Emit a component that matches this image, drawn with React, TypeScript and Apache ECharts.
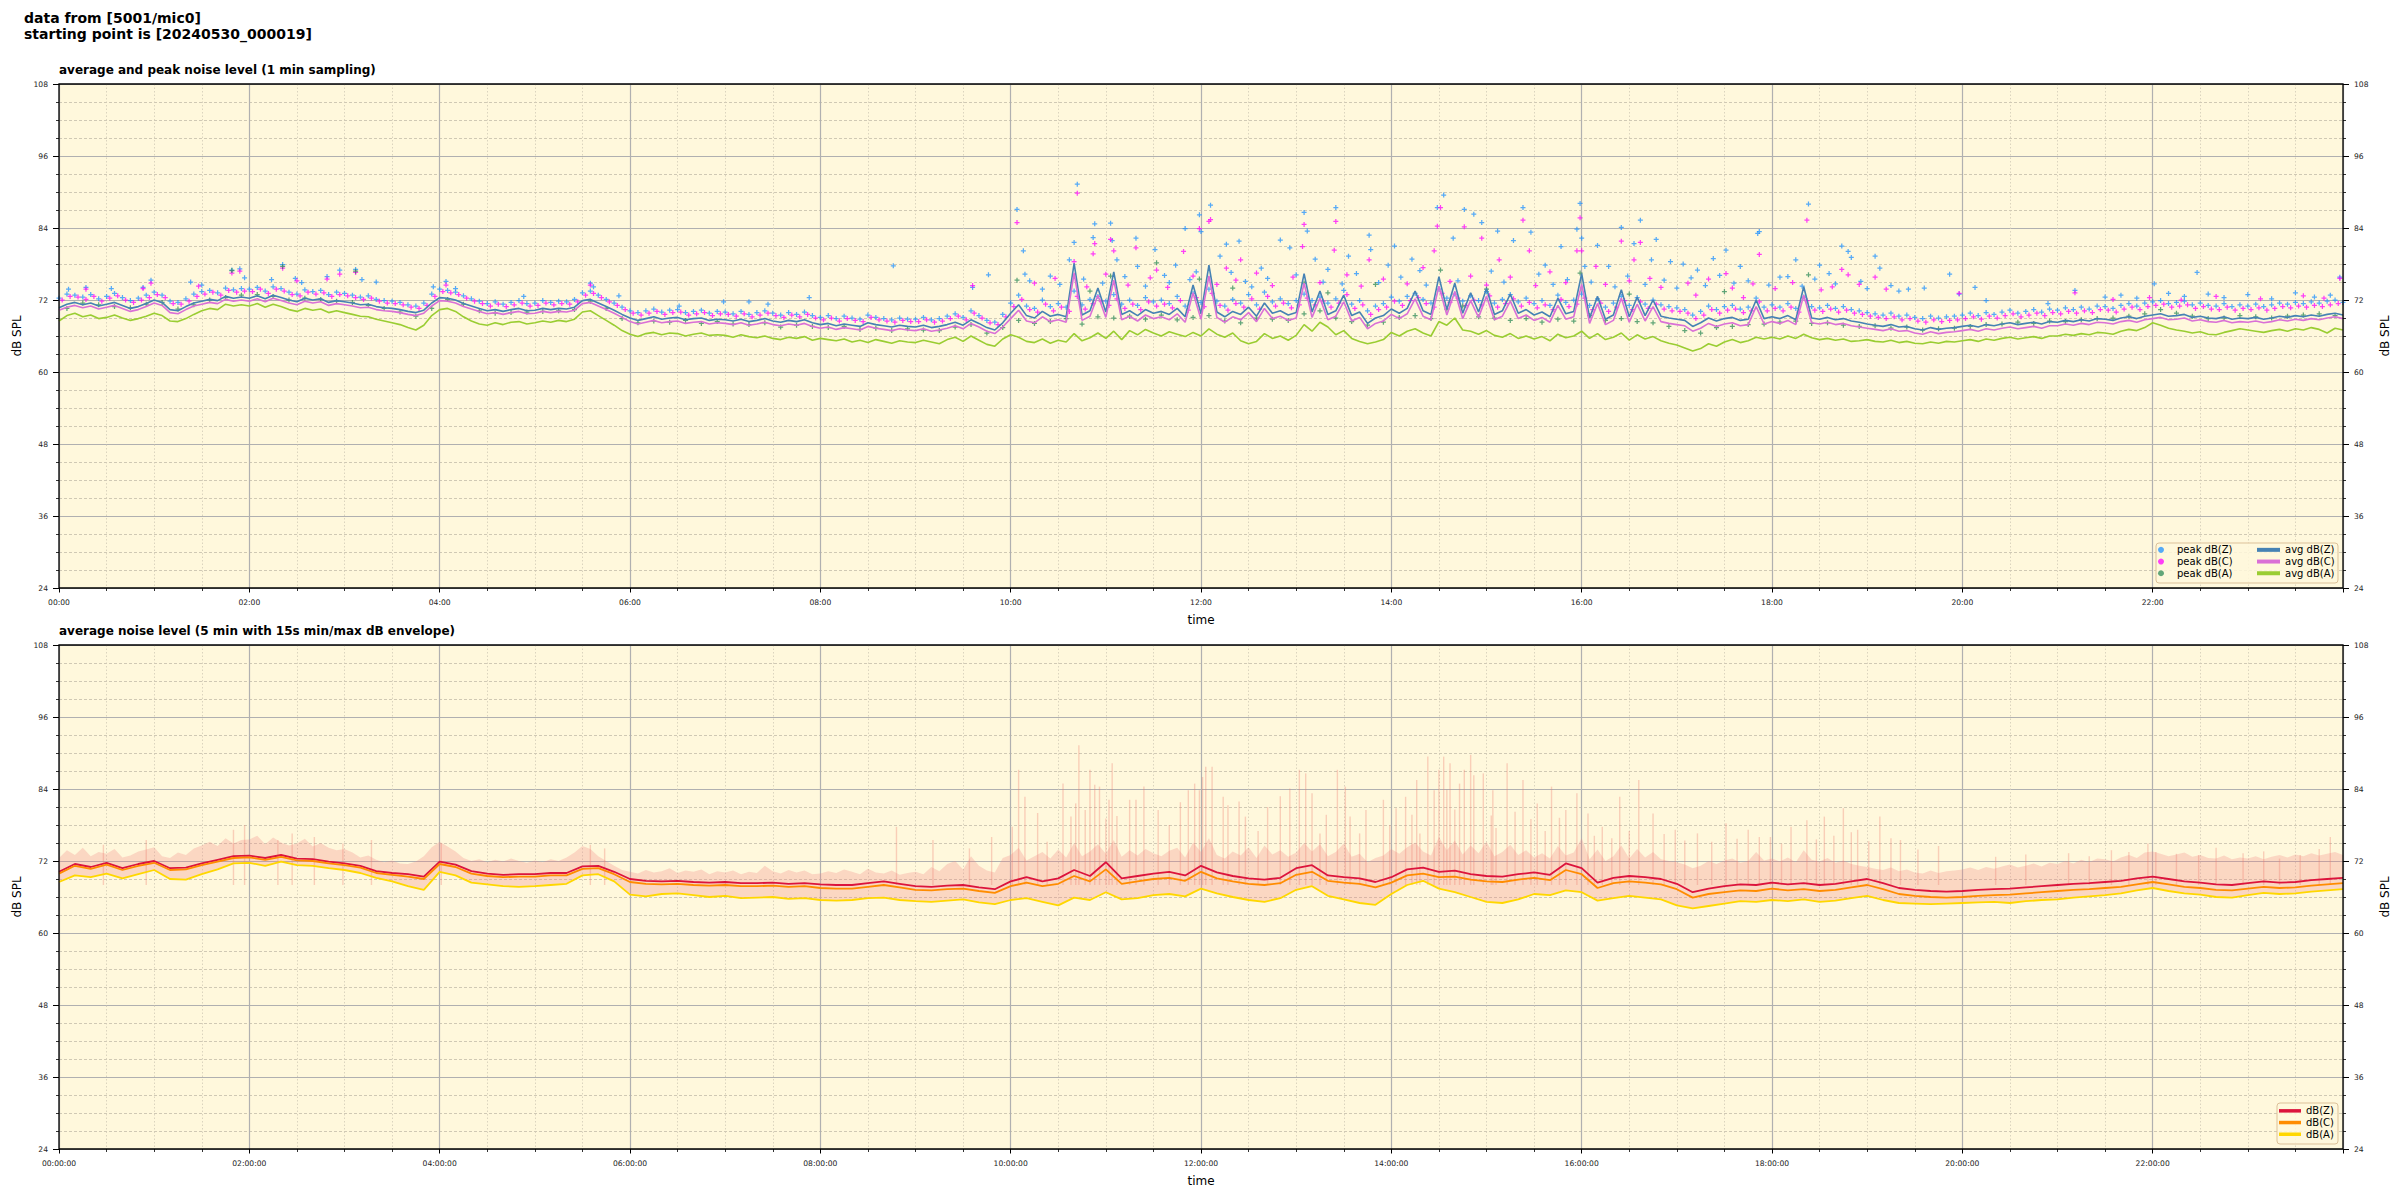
import React, { useEffect, useRef } from 'react';
import * as echarts from 'echarts';

// ---------- DATA (minutes since 00:00, dB SPL) ----------
const TOP_STEP = 5; // minutes between samples of the top-panel arrays
const BOT_STEP = 10; // minutes between samples of the bottom-panel lines
const ENV_STEP = 5; // minutes between samples of the envelope upper edge
const PEAK_A_STEP = 10;

const AVG_Z = [
  70.7, 71.3, 71.6, 71.2, 71.5, 71.0, 71.3, 71.6, 71.1, 70.6, 70.9, 71.4,
  72.0, 71.6, 70.4, 70.2, 70.9, 71.5, 71.8, 72.1, 71.9, 72.6, 72.3, 72.5,
  72.3, 72.7, 72.2, 72.8, 72.4, 72.0, 71.7, 72.3, 72.0, 72.2, 71.6, 71.9,
  71.7, 71.5, 71.2, 71.3, 70.9, 70.7, 70.6, 70.4, 70.1, 69.9, 70.3, 71.5,
  72.4, 72.3, 72.0, 71.4, 71.0, 70.6, 70.2, 70.4, 70.1, 70.4, 70.6, 70.2,
  70.3, 70.6, 70.4, 70.6, 70.5, 70.8, 71.9, 72.1, 71.5, 70.9, 70.3, 69.6,
  69.0, 68.6, 68.9, 69.2, 68.8, 69.0, 69.1, 68.7, 68.9, 69.0, 68.6, 68.8,
  68.7, 68.5, 68.8, 68.4, 68.6, 68.9, 68.5, 68.3, 68.6, 68.4, 68.7, 68.2,
  67.9, 68.1, 67.7, 68.0, 67.8, 67.6, 68.2, 67.9, 67.7, 67.5, 67.8, 67.6,
  67.5, 67.8, 67.4, 67.6, 67.9, 68.3, 67.8, 68.7, 68.1, 67.4, 67.0, 68.2,
  69.8, 71.2, 69.4, 69.0, 70.1, 69.3, 69.6, 69.2, 78.1, 69.5, 70.2, 74.0,
  70.0, 76.7, 69.6, 70.2, 69.4, 70.4, 69.8, 70.1, 69.6, 70.6, 69.2, 74.5,
  69.7, 77.8, 70.0, 69.2, 70.1, 69.6, 70.8, 69.3, 71.5, 69.8, 70.2, 69.5,
  69.9, 76.4, 70.0, 73.5, 69.6, 70.2, 72.8, 69.4, 70.0, 68.1, 69.0, 69.4,
  70.5, 69.8, 70.6, 73.5, 70.2, 69.6, 75.9, 70.4, 74.8, 69.8, 73.2, 70.0,
  73.9, 69.6, 70.2, 73.0, 69.8, 70.4, 69.5, 70.0, 69.2, 72.3, 69.7, 70.1,
  76.4, 69.0, 72.6, 68.8, 69.5, 73.7, 69.2, 72.5, 69.4, 72.0, 69.3, 69.0,
  68.8, 68.6, 67.6, 68.2, 69.0, 68.5, 68.9, 69.1, 68.6, 68.8, 72.0, 68.9,
  69.2, 68.9, 69.4, 68.7, 74.2, 69.0, 68.8, 69.1, 68.7, 68.9, 68.5, 68.3,
  68.0, 67.8, 67.6, 67.9, 67.5, 67.6, 67.2, 67.0, 67.4, 67.1, 67.3, 67.4,
  67.6, 67.8, 67.5, 67.9, 67.7, 68.0, 68.2, 67.9, 68.1, 68.3, 68.0, 68.4,
  68.3, 68.6, 68.4, 68.7, 68.5, 68.9, 68.8, 68.6, 69.0, 69.2, 68.9, 69.3,
  69.5, 69.7, 69.3, 69.4, 69.6, 69.1, 69.3, 69.0, 68.9, 69.2, 68.8, 69.0,
  68.9, 69.1, 68.8, 69.0, 69.3, 69.1, 69.4, 69.2, 69.5, 69.3, 69.6, 69.8,
  69.5,
];

const AVG_C = [
  70.3, 70.8, 71.1, 70.7, 71.0, 70.5, 70.8, 71.1, 70.6, 70.1, 70.4, 70.9,
  71.5, 71.1, 69.9, 69.7, 70.4, 71.0, 71.3, 71.6, 71.4, 72.1, 71.8, 72.0,
  71.8, 72.2, 71.7, 72.3, 71.9, 71.5, 71.2, 71.8, 71.5, 71.7, 71.1, 71.4,
  71.2, 71.0, 70.7, 70.8, 70.4, 70.2, 70.1, 69.9, 69.6, 69.4, 69.8, 71.0,
  71.9, 71.8, 71.5, 70.9, 70.5, 70.1, 69.7, 69.9, 69.6, 69.9, 70.1, 69.7,
  69.8, 70.1, 69.9, 70.1, 70.0, 70.3, 71.4, 71.6, 71.0, 70.4, 69.8, 69.1,
  68.4, 68.0, 68.3, 68.6, 68.2, 68.4, 68.5, 68.1, 68.3, 68.4, 68.0, 68.2,
  68.1, 67.9, 68.2, 67.8, 68.0, 68.3, 67.9, 67.7, 68.0, 67.8, 68.1, 67.6,
  67.3, 67.5, 67.1, 67.4, 67.2, 67.0, 67.6, 67.3, 67.1, 66.9, 67.2, 67.0,
  66.9, 67.2, 66.8, 67.0, 67.3, 67.7, 67.2, 68.1, 67.5, 66.8, 66.4, 67.5,
  68.9, 70.3, 68.5, 68.2, 69.2, 68.4, 68.7, 68.3, 76.5, 68.6, 69.3, 72.8,
  69.1, 75.3, 68.7, 69.3, 68.5, 69.5, 68.9, 69.2, 68.7, 69.7, 68.3, 73.2,
  68.8, 76.0, 69.1, 68.3, 69.2, 68.7, 69.9, 68.4, 70.6, 68.9, 69.3, 68.6,
  69.0, 74.8, 69.1, 72.3, 68.7, 69.3, 71.7, 68.5, 69.1, 67.2, 68.1, 68.5,
  69.6, 68.9, 69.7, 72.2, 69.3, 68.7, 74.3, 69.5, 73.4, 68.9, 71.9, 69.1,
  72.6, 68.7, 69.3, 71.8, 68.9, 69.5, 68.6, 69.1, 68.3, 71.1, 68.8, 69.2,
  74.6, 68.1, 71.4, 67.9, 68.6, 72.3, 68.3, 71.3, 68.5, 70.9, 68.4, 68.1,
  67.9, 67.7, 66.8, 67.3, 68.1, 67.6, 68.0, 68.2, 67.7, 67.9, 70.9, 68.0,
  68.4, 68.1, 68.6, 67.9, 72.8, 68.2, 68.0, 68.3, 67.9, 68.1, 67.7, 67.5,
  67.3, 67.1, 66.9, 67.2, 66.8, 66.9, 66.5, 66.3, 66.7, 66.4, 66.6, 66.7,
  66.9, 67.1, 66.8, 67.2, 67.0, 67.3, 67.5, 67.2, 67.4, 67.6, 67.3, 67.7,
  67.7, 68.0, 67.8, 68.1, 67.9, 68.3, 68.2, 68.0, 68.4, 68.6, 68.3, 68.7,
  68.9, 69.1, 68.7, 68.8, 69.0, 68.5, 68.7, 68.4, 68.3, 68.6, 68.2, 68.4,
  68.3, 68.5, 68.2, 68.4, 68.7, 68.5, 68.8, 68.6, 68.9, 68.7, 69.0, 69.2,
  68.9,
];

const AVG_A = [
  68.5, 69.4, 69.8, 69.2, 69.5, 68.9, 69.1, 69.5, 69.0, 68.6, 68.9, 69.3,
  69.8, 69.4, 68.5, 68.4, 68.9, 69.6, 70.2, 70.6, 70.4, 71.3, 71.0, 71.2,
  71.0, 71.4, 70.8, 71.3, 70.9, 70.4, 70.1, 70.6, 70.3, 70.5, 69.9, 70.2,
  69.9, 69.6, 69.3, 69.2, 68.8, 68.5, 68.2, 67.9, 67.4, 67.0, 67.8, 69.4,
  70.4, 70.6, 70.1, 69.2, 68.5, 68.0, 67.8, 68.2, 67.9, 68.3, 68.4, 68.0,
  68.2, 68.5, 68.3, 68.6, 68.4, 68.8, 70.0, 70.2, 69.4, 68.6, 67.8, 66.9,
  66.3, 65.9, 66.4, 66.6, 66.2, 66.5, 66.4, 66.0, 66.3, 66.5, 66.1, 66.2,
  66.1, 65.8, 66.2, 65.9, 65.7, 66.0, 65.6, 65.4, 65.8, 65.6, 65.9, 65.3,
  65.6, 65.4, 65.2, 65.5, 65.0, 65.3, 64.9, 65.4, 65.1, 64.8, 65.2, 65.0,
  64.9, 65.3, 65.0, 64.7, 65.4, 65.8, 65.1, 66.0, 65.3, 64.6, 64.3, 65.5,
  66.2, 65.8, 65.1, 64.9, 65.5, 64.8, 65.3, 65.0, 66.4, 65.2, 65.7, 66.5,
  65.6, 66.8, 65.4, 66.9, 66.2, 67.1, 66.5, 66.0, 66.7, 66.3, 65.9, 66.6,
  66.0, 67.2, 66.3, 65.8, 66.5, 65.2, 64.7, 65.1, 66.4, 65.6, 66.0, 65.3,
  66.1, 67.9, 66.8, 68.3, 67.5, 66.2, 66.9, 65.6, 65.1, 64.7, 65.0, 65.4,
  66.6, 66.0, 66.8, 67.2, 66.5, 66.0, 68.4, 67.8, 69.0, 67.0, 66.8, 66.3,
  66.9, 66.1, 65.8, 66.4, 65.6, 66.0, 65.5, 65.9, 65.2, 66.3, 65.7, 66.0,
  66.8, 65.6, 66.4, 65.4, 65.8, 66.5, 65.3, 66.2, 65.5, 65.9, 65.2, 64.8,
  64.5, 64.0, 63.5, 63.9, 64.7, 64.3, 65.0, 65.4, 64.9, 65.2, 65.8, 65.5,
  65.8, 65.5, 66.0, 65.6, 66.3, 65.7, 65.4, 65.6, 65.3, 65.5, 65.1, 65.2,
  65.4, 65.1, 65.0, 65.3, 64.9, 65.1, 64.8, 64.7, 65.0, 64.8, 65.1, 65.0,
  65.2, 65.4, 65.1, 65.5, 65.3, 65.6, 65.8, 65.5, 65.7, 65.9, 65.6, 66.0,
  66.0, 66.3, 66.1, 66.4, 66.2, 66.6, 66.5, 66.3, 66.8, 67.1, 66.9, 67.4,
  68.2, 67.8, 67.3, 67.0, 66.8, 66.5, 66.7, 66.3, 66.2, 66.6, 66.9, 67.2,
  67.0, 66.8, 66.6, 66.9, 67.1, 66.8, 67.2, 67.0, 67.4, 67.1, 66.5, 67.3,
  67.0,
];

const PEAK_Z = [
  72.3, 73.0, 72.8, 72.5, 72.9, 72.2, 72.6, 73.1, 72.4, 71.9, 72.3, 72.8,
  73.3, 72.8, 71.8, 71.6, 72.2, 73.0, 73.4, 73.6, 73.2, 74.0, 73.7, 73.9,
  73.8, 74.1, 73.5, 74.2, 73.9, 73.3, 73.0, 73.7, 73.4, 73.6, 72.9, 73.3,
  73.1, 72.8, 72.5, 72.7, 72.1, 71.9, 71.8, 71.6, 71.2, 71.0, 71.5, 73.0,
  73.8, 73.6, 73.3, 72.7, 72.2, 71.8, 71.4, 71.7, 71.3, 71.6, 71.9, 71.4,
  71.5, 71.9, 71.6, 71.8, 71.7, 72.1, 73.2, 73.5, 72.8, 72.1, 71.5, 70.8,
  70.2, 69.9, 70.2, 70.5, 70.0, 70.3, 70.4, 69.9, 70.1, 70.3, 69.8, 70.1,
  70.0, 69.7, 70.1, 69.6, 69.9, 70.2, 69.8, 69.5, 69.9, 69.6, 70.0, 69.4,
  69.1, 69.4, 68.9, 69.3, 69.0, 68.8, 69.5, 69.1, 68.9, 68.7, 69.0, 68.8,
  68.8, 69.1, 68.7, 68.9, 69.3, 69.7, 69.1, 70.2, 69.4, 68.6, 68.3, 69.6,
  71.5, 72.8, 71.0, 70.6, 72.0, 70.9, 71.4, 70.8, 73.5, 71.2, 72.1, 72.6,
  71.8, 72.9, 71.3, 72.0, 71.1, 72.4, 71.7, 72.0, 71.4, 72.6, 71.0, 73.1,
  71.6, 73.8, 71.8, 71.0, 72.1, 71.5, 72.9, 71.2, 73.3, 71.7, 72.2, 71.4,
  71.9, 73.0, 71.9, 72.5, 71.5, 72.2, 73.6, 71.3, 71.9, 70.2, 71.0, 71.4,
  72.5, 71.8, 72.6, 73.1, 72.1, 71.5, 73.8, 72.3, 73.0, 71.8, 72.7, 71.9,
  73.4, 71.5, 72.1, 72.9, 71.7, 72.3, 71.4, 71.9, 71.1, 72.8, 71.6, 72.0,
  73.0, 71.1, 72.2, 70.8, 71.5, 72.6, 71.1, 72.4, 71.3, 72.0, 71.2, 70.9,
  70.7, 70.4, 69.5, 70.1, 71.0, 70.4, 70.9, 71.1, 70.5, 70.8, 72.3, 70.8,
  71.2, 70.8, 71.4, 70.6, 72.5, 70.9, 70.7, 71.1, 70.6, 70.9, 70.4, 70.2,
  69.9, 69.7, 69.5, 69.8, 69.3, 69.5, 69.1, 68.9, 69.3, 69.0, 69.2, 69.3,
  69.5, 69.8, 69.4, 69.9, 69.6, 70.0, 70.3, 69.8, 70.1, 70.4, 70.0, 70.5,
  70.3, 70.7, 70.4, 70.8, 70.5, 71.0, 70.9, 70.6, 71.1, 71.4, 71.0, 71.5,
  71.7, 71.9, 71.4, 71.6, 71.8, 71.2, 71.5, 71.1, 71.0, 71.4, 70.9, 71.2,
  71.0, 71.3, 70.9, 71.2, 71.5, 71.3, 71.6, 71.4, 71.7, 71.5, 71.8, 72.0,
  71.6,
];

const PEAK_C = [
  72.0, 72.6, 72.5, 72.1, 72.6, 71.8, 72.3, 72.7, 72.0, 71.6, 72.0, 72.4,
  72.9, 72.4, 71.4, 71.3, 71.8, 72.6, 73.0, 73.3, 72.8, 73.6, 73.3, 73.5,
  73.4, 73.8, 73.1, 73.8, 73.5, 72.9, 72.7, 73.3, 73.0, 73.2, 72.6, 72.9,
  72.7, 72.4, 72.1, 72.3, 71.8, 71.5, 71.4, 71.2, 70.8, 70.6, 71.1, 72.6,
  73.4, 73.2, 72.9, 72.3, 71.8, 71.4, 71.0, 71.3, 70.9, 71.2, 71.5, 71.0,
  71.1, 71.5, 71.2, 71.4, 71.3, 71.7, 72.8, 73.1, 72.4, 71.7, 71.1, 70.4,
  69.8, 69.5, 69.8, 70.1, 69.6, 69.9, 70.0, 69.5, 69.7, 69.9, 69.4, 69.7,
  69.6, 69.3, 69.7, 69.2, 69.5, 69.8, 69.4, 69.1, 69.5, 69.2, 69.6, 69.0,
  68.7, 69.0, 68.5, 68.9, 68.6, 68.4, 69.1, 68.7, 68.5, 68.3, 68.6, 68.4,
  68.4, 68.7, 68.3, 68.5, 68.9, 69.3, 68.7, 69.8, 69.0, 68.2, 67.9, 69.2,
  70.9, 72.1, 70.4, 70.0, 71.3, 70.2, 70.8, 70.1, 72.6, 70.5, 71.4, 71.8,
  71.1, 72.2, 70.6, 71.3, 70.4, 71.7, 71.0, 71.3, 70.7, 71.9, 70.3, 72.4,
  70.9, 73.1, 71.1, 70.3, 71.4, 70.8, 72.2, 70.5, 72.6, 71.0, 71.5, 70.7,
  71.2, 72.3, 71.2, 71.8, 70.8, 71.5, 72.9, 70.6, 71.2, 69.6, 70.4, 70.8,
  71.8, 71.1, 71.9, 72.4, 71.4, 70.8, 73.1, 71.6, 72.3, 71.1, 72.0, 71.2,
  72.7, 70.8, 71.4, 72.2, 71.0, 71.6, 70.7, 71.2, 70.4, 72.1, 70.9, 71.3,
  72.3, 70.4, 71.5, 70.1, 70.8, 71.9, 70.4, 71.7, 70.6, 71.3, 70.5, 70.2,
  70.1, 69.8, 68.9, 69.5, 70.4, 69.8, 70.3, 70.5, 69.9, 70.2, 71.7, 70.2,
  70.6, 70.2, 70.8, 70.0, 71.9, 70.3, 70.1, 70.5, 70.0, 70.3, 69.8, 69.6,
  69.3, 69.1, 68.9, 69.2, 68.7, 68.9, 68.5, 68.3, 68.7, 68.4, 68.6, 68.7,
  68.9, 69.2, 68.8, 69.3, 69.0, 69.4, 69.7, 69.2, 69.5, 69.8, 69.4, 69.9,
  69.7, 70.1, 69.8, 70.2, 69.9, 70.4, 70.3, 70.0, 70.5, 70.8, 70.4, 70.9,
  71.1, 71.3, 70.8, 71.0, 71.2, 70.6, 70.9, 70.5, 70.4, 70.8, 70.3, 70.6,
  70.4, 70.7, 70.3, 70.6, 70.9, 70.7, 71.0, 70.8, 71.1, 70.9, 71.2, 71.4,
  71.0,
];

const PEAK_A = [
  70.6, 71.5, 71.2, 70.9, 70.7, 71.3,
  71.6, 70.5, 71.2, 72.0, 72.4, 72.8,
  72.9, 72.6, 72.0, 72.3, 72.1, 71.8,
  71.6, 71.1, 70.6, 70.0, 69.3, 70.6,
  72.1, 71.3, 70.2, 69.8, 69.9, 70.0,
  70.1, 70.2, 70.4, 71.8, 70.6, 68.9,
  68.2, 68.5, 68.3, 68.6, 68.1, 68.4,
  68.0, 67.9, 68.2, 67.5, 67.8, 67.6,
  67.4, 67.6, 67.1, 67.3, 66.9, 67.2,
  67.0, 66.9, 67.5, 67.9, 66.5, 67.4,
  68.6, 68.1, 68.4, 68.9, 68.0, 69.2,
  69.0, 69.3, 68.8, 69.5, 68.7, 69.1,
  69.4, 68.5, 68.2, 69.0, 68.8, 68.6,
  69.7, 70.2, 69.0, 68.4, 67.8, 68.3,
  69.1, 69.4, 68.9, 70.5, 71.0, 69.2,
  69.0, 68.6, 68.9, 68.3, 68.8, 68.5,
  69.4, 68.6, 68.9, 68.4, 68.2, 67.6,
  66.9, 66.5, 67.4, 67.6, 67.9, 68.0,
  68.3, 68.5, 68.1, 68.2, 67.8, 67.6,
  67.7, 67.3, 67.5, 67.0, 67.2, 67.3,
  67.6, 67.9, 68.0, 68.3, 68.1, 68.5,
  68.4, 68.7, 68.9, 69.0, 69.3, 69.7,
  70.4, 69.8, 69.3, 68.9, 69.0, 69.4,
  69.2, 69.0, 69.3, 69.5, 69.7, 69.4,
  69.3,
];

// isolated 1-min peaks [minute, dB]
const PEAK_Z_OUT = [
  [6, 73.8], [17, 74.1], [33, 73.9], [53, 74.1], [58, 75.3], [83, 75.0], [90, 74.5], [109, 77.0], [114, 77.2], [117, 75.7],
  [134, 75.4], [141, 77.9], [149, 75.6], [153, 74.9], [169, 75.9], [177, 77.0], [187, 77.1], [191, 75.4], [200, 75.0], [236, 74.2],
  [244, 75.1], [250, 73.9], [293, 72.6], [335, 74.8], [337, 74.2], [353, 72.7], [391, 71.0], [419, 71.7], [435, 71.7], [447, 71.3],
  [473, 72.4], [526, 77.7], [576, 74.1], [586, 76.2], [604, 87.1], [608, 80.2], [609, 76.3], [620, 73.8], [637, 78.7], [640, 81.6],
  [642, 91.3], [652, 82.4], [653, 84.7], [663, 84.8], [664, 81.9], [667, 78.7], [679, 82.3], [680, 77.6], [691, 80.4], [704, 77.8],
  [710, 83.9], [717, 76.7], [719, 86.2], [720, 83.4], [726, 87.8], [732, 79.3], [736, 81.3], [744, 81.8], [748, 75.1], [770, 82.0],
  [776, 80.7], [785, 86.6], [787, 83.5], [792, 78.8], [805, 87.4], [813, 79.3], [826, 82.8], [827, 80.4], [838, 77.8], [842, 81.0],
  [853, 78.8], [869, 87.4], [873, 89.5], [879, 82.3], [886, 87.1], [892, 86.3], [897, 84.9], [907, 83.5], [917, 81.9], [923, 87.4],
  [928, 83.3], [937, 77.8], [947, 80.9], [957, 83.8],
  [612, 75.2], [625, 76.0], [631, 74.6], [646, 75.5], [658, 74.8], [672, 75.9], [685, 74.3], [697, 76.1], [700, 74.9], [713, 75.4],
  [739, 76.6], [752, 74.2], [758, 77.3], [762, 75.6], [780, 76.2], [797, 75.0], [800, 77.1], [809, 74.7], [818, 76.4], [832, 74.9],
  [846, 75.8], [858, 76.9], [862, 74.5], [882, 75.2], [903, 76.8], [911, 75.0], [933, 76.3], [942, 74.6], [951, 75.4],
  [959, 88.1], [960, 82.3], [962, 77.6], [970, 81.1], [977, 77.6], [985, 84.1], [993, 81.4], [997, 85.3], [1004, 78.7], [1007, 82.1],
  [1016, 78.4], [1024, 78.0], [1033, 77.0], [1043, 78.9], [1051, 80.3], [1060, 77.6], [1071, 83.1], [1072, 83.4], [1085, 75.8], [1095, 78.7],
  [1103, 88.0], [1110, 77.8], [1116, 76.4], [1124, 81.0], [1128, 80.1], [1130, 79.1], [1145, 79.3], [1148, 77.3], [1166, 73.8], [1192, 76.3],
  [1198, 73.0], [1208, 74.1], [1215, 71.9], [1254, 71.4], [1271, 73.6], [1321, 74.7], [1348, 76.6], [1438, 75.8],
  [966, 75.0], [981, 74.2], [989, 76.0], [1000, 74.6], [1012, 75.3], [1020, 74.0], [1029, 75.7], [1038, 74.4], [1047, 76.1], [1056, 74.8],
  [1065, 75.2], [1078, 74.5], [1090, 75.9], [1099, 74.3], [1107, 75.5], [1120, 74.7], [1136, 75.1], [1140, 73.9], [1155, 74.4], [1160, 73.5],
  [1176, 74.0], [1290, 72.5], [1300, 72.8], [1310, 72.3], [1330, 73.1], [1340, 72.6], [1355, 73.0], [1365, 72.4], [1380, 72.9], [1395, 72.2],
  [1410, 73.2], [1422, 72.5], [1432, 72.8],
];

const PEAK_C_OUT = [
  [17, 73.8], [53, 73.9], [58, 74.8], [88, 74.3], [109, 76.5], [114, 76.8], [141, 77.3], [150, 75.2], [169, 75.5], [177, 76.3],
  [187, 76.6], [244, 74.5], [335, 74.5], [576, 74.4], [604, 84.9], [640, 78.4], [642, 89.8], [652, 79.7], [653, 81.4], [663, 82.1],
  [665, 80.2], [679, 80.7], [692, 77.0], [709, 80.1], [719, 83.9], [725, 85.1], [726, 85.4], [736, 77.3], [745, 78.7], [784, 80.9],
  [785, 84.6], [804, 80.3], [805, 85.1], [826, 78.7], [867, 80.2], [869, 84.3], [871, 87.4], [886, 84.2], [897, 82.3], [908, 78.7],
  [923, 85.3], [927, 80.2], [957, 80.2],
  [615, 74.8], [628, 75.6], [648, 74.2], [660, 76.3], [674, 74.5], [688, 75.7], [699, 74.1], [715, 76.0], [730, 74.6], [742, 75.3],
  [755, 76.5], [765, 74.4], [778, 75.8], [795, 74.9], [812, 76.2], [821, 74.3], [835, 75.5], [850, 74.7], [860, 77.4], [877, 75.1],
  [890, 76.0], [900, 74.5], [915, 75.8], [931, 74.4], [940, 76.7], [950, 74.9],
  [959, 85.7], [960, 80.2], [969, 77.6], [985, 81.8], [993, 78.7], [997, 81.6], [1003, 75.6], [1032, 72.8], [1051, 76.4], [1062, 72.4],
  [1072, 79.6], [1102, 85.3], [1111, 73.7], [1124, 77.1], [1128, 76.2], [1145, 75.8], [1198, 73.1], [1271, 73.2], [1438, 75.6],
  [975, 74.6], [990, 75.2], [1010, 74.1], [1027, 74.8], [1040, 75.5], [1055, 74.0], [1068, 74.7], [1082, 73.9], [1093, 74.9], [1118, 74.2],
  [1135, 74.6], [1152, 73.8], [1295, 72.1], [1318, 72.4], [1338, 72.0], [1360, 72.6], [1388, 72.2], [1415, 72.7], [1428, 72.3],
];

const PEAK_A_OUT = [
  [109, 76.9], [141, 77.6], [187, 76.8], [604, 75.3], [650, 73.5], [663, 76.0], [692, 78.2], [719, 75.5], [740, 74.0], [785, 74.8],
  [800, 73.2], [830, 74.6], [871, 77.0], [900, 73.8], [959, 76.5], [990, 73.0], [1050, 73.4], [1103, 76.2],
];

// bottom panel: 5-min averages (10-min samples)
const BOT_Z = [
  70.2, 71.5, 71.0, 71.7, 70.8, 71.5,
  72.0, 70.8, 70.9, 71.6, 72.2, 72.8,
  72.9, 72.5, 73.0, 72.4, 72.3, 71.9,
  71.6, 71.2, 70.3, 70.0, 69.8, 69.4,
  71.9, 71.4, 70.3, 69.9, 69.7, 69.8,
  69.8, 70.0, 70.0, 71.1, 71.2, 70.2,
  69.0, 68.7, 68.6, 68.7, 68.5, 68.4,
  68.5, 68.3, 68.3, 68.4, 68.2, 68.3,
  68.1, 68.0, 68.0, 68.3, 68.6, 68.2,
  67.8, 67.7, 67.9, 68.0, 67.6, 67.3,
  68.6, 69.3, 68.6, 69.1, 70.5, 69.5,
  71.8, 69.1, 69.5, 69.9, 70.2, 69.6,
  71.2, 70.1, 69.5, 69.1, 68.9, 69.2,
  70.8, 71.3, 69.6, 69.3, 69.1, 68.5,
  69.3, 70.6, 70.9, 70.2, 70.4, 69.8,
  69.5, 69.4, 69.8, 70.1, 69.7, 71.6,
  70.8, 68.4, 69.2, 69.5, 69.3, 69.0,
  68.2, 66.8, 67.4, 67.8, 68.1, 68.0,
  68.4, 68.1, 68.3, 68.0, 68.2, 68.6,
  69.0, 68.3, 67.5, 67.2, 67.0, 66.9,
  67.0, 67.2, 67.3, 67.4, 67.6, 67.8,
  68.0, 68.2, 68.3, 68.5, 68.7, 69.1,
  69.4, 69.0, 68.6, 68.4, 68.1, 68.0,
  68.3, 68.6, 68.4, 68.5, 68.8, 69.0,
  69.2,
];

const BOT_C = [
  69.9, 71.2, 70.7, 71.4, 70.5, 71.2,
  71.7, 70.5, 70.6, 71.3, 71.9, 72.5,
  72.6, 72.2, 72.7, 72.1, 72.0, 71.6,
  71.3, 70.9, 70.0, 69.7, 69.4, 69.0,
  71.5, 71.0, 69.9, 69.5, 69.3, 69.4,
  69.4, 69.6, 69.6, 70.7, 70.8, 69.8,
  68.5, 68.2, 68.1, 68.2, 68.0, 67.9,
  68.0, 67.8, 67.8, 67.9, 67.7, 67.8,
  67.5, 67.4, 67.4, 67.7, 68.0, 67.6,
  67.2, 67.1, 67.3, 67.4, 67.0, 66.7,
  67.8, 68.4, 67.8, 68.2, 69.5, 68.6,
  70.6, 68.2, 68.6, 69.0, 69.2, 68.7,
  70.2, 69.1, 68.6, 68.2, 68.0, 68.3,
  69.7, 70.2, 68.7, 68.4, 68.2, 67.6,
  68.4, 69.6, 69.9, 69.3, 69.4, 68.9,
  68.6, 68.5, 68.9, 69.2, 68.8, 70.5,
  69.8, 67.5, 68.3, 68.6, 68.4, 68.1,
  67.3, 65.9, 66.5, 66.8, 67.1, 67.0,
  67.4, 67.1, 67.3, 67.0, 67.2, 67.6,
  68.0, 67.3, 66.5, 66.2, 66.0, 65.9,
  66.0, 66.2, 66.3, 66.4, 66.6, 66.8,
  67.0, 67.2, 67.3, 67.5, 67.7, 68.1,
  68.5, 68.1, 67.7, 67.5, 67.2, 67.1,
  67.4, 67.7, 67.5, 67.6, 67.9, 68.1,
  68.3,
];

const BOT_A = [
  68.5, 69.6, 69.3, 69.9, 69.1, 69.8,
  70.5, 69.0, 68.9, 69.8, 70.6, 71.6,
  71.7, 71.2, 71.9, 71.3, 71.2, 70.8,
  70.5, 70.0, 69.2, 68.6, 67.8, 67.2,
  70.2, 69.6, 68.4, 68.1, 67.8, 67.7,
  67.8, 68.0, 68.2, 69.6, 69.8, 68.6,
  66.4, 66.1, 66.5, 66.6, 66.3, 66.0,
  66.2, 65.8, 65.9, 66.0, 65.7, 65.8,
  65.5, 65.4, 65.5, 65.8, 65.9, 65.5,
  65.3, 65.2, 65.4, 65.6, 65.1, 64.8,
  65.5, 65.8, 65.2, 64.6, 65.9, 65.5,
  66.8, 65.6, 65.8, 66.3, 66.5, 66.1,
  67.4, 66.6, 66.0, 65.5, 65.2, 65.8,
  67.2, 67.8, 66.2, 65.6, 65.0, 64.7,
  66.5, 68.0, 68.7, 67.4, 66.8, 66.0,
  65.2, 65.0, 65.6, 66.5, 66.3, 67.1,
  66.8, 65.4, 65.8, 66.2, 65.9, 65.6,
  64.6, 64.1, 64.5, 64.9, 65.3, 65.2,
  65.5, 65.3, 65.6, 65.2, 65.4, 65.8,
  66.2, 65.5, 65.0, 64.9, 64.8, 64.9,
  65.0, 65.1, 65.2, 65.0, 65.3, 65.5,
  65.6, 65.9, 66.1, 66.3, 66.6, 67.1,
  67.5, 67.0, 66.6, 66.4, 66.0, 65.9,
  66.3, 66.7, 66.5, 66.6, 66.9, 67.1,
  67.3,
];

// upper edge of the 15 s min/max envelope (5-min samples); lower edge follows dB(A)
const ENV_HI = [
  72.5, 73.8, 73.0, 74.2, 72.8, 73.5, 73.2, 74.0, 72.6, 72.9, 73.6, 73.9,
  74.3, 72.8, 72.5, 73.4, 73.0, 74.1, 74.6, 75.2, 74.5, 75.8, 74.9, 75.5,
  75.6, 76.2, 74.8, 75.9, 75.1, 74.6, 74.9, 75.7, 74.4, 75.0, 74.2, 73.8,
  74.0, 73.4, 72.6, 72.9, 72.2, 71.8, 72.1, 71.6, 71.5, 71.9, 72.8, 74.3,
  75.2, 74.4, 73.6, 72.5, 72.0, 72.3, 71.8, 72.2, 71.9, 72.4, 72.0, 71.7,
  72.1, 71.8, 72.3, 72.0, 72.6, 73.4, 74.5, 74.0, 72.8, 72.0, 71.2, 70.5,
  70.2, 69.9, 70.5, 70.1, 70.3, 70.8, 70.0, 70.4, 70.2, 70.6, 69.8, 70.3,
  70.1, 70.4, 69.8, 70.2, 70.0, 71.2, 70.3, 69.9, 70.5, 70.1, 70.4, 69.8,
  69.9, 70.3, 70.0, 70.6, 70.2, 69.8, 70.7, 70.1, 69.9, 70.4, 69.7, 70.0,
  70.2, 69.8, 71.0, 70.3, 71.5, 72.0, 70.6, 72.8, 71.2, 70.4, 70.1, 72.5,
  73.0, 74.2, 72.1, 72.8, 73.5, 72.4, 73.9, 72.6, 75.0, 72.8, 73.6, 74.8,
  73.2, 75.5, 72.7, 73.8, 72.9, 74.0, 73.3, 72.8, 73.7, 74.2, 72.6, 75.1,
  73.5, 75.8, 73.0, 72.4, 73.6, 72.9, 74.3, 72.5, 74.6, 73.1, 73.8, 72.7,
  73.4, 75.0, 73.6, 74.8, 72.8, 73.5, 74.9, 72.7, 73.2, 71.8, 72.5, 72.9,
  74.0, 73.2, 74.3, 75.1, 73.6, 72.9, 76.0, 73.8, 75.4, 73.1, 74.6, 73.3,
  75.2, 72.8, 73.5, 74.7, 73.0, 73.8, 72.6, 73.3, 72.4, 74.5, 72.9, 73.4,
  75.8, 72.3, 73.9, 72.0, 72.8, 74.6, 72.4, 74.0, 72.6, 73.5, 72.3, 72.0,
  71.8, 71.4, 70.8, 71.2, 72.0, 71.5, 72.1, 72.4, 71.7, 72.0, 73.5, 72.1,
  72.4, 71.9, 72.6, 71.8, 73.8, 72.2, 71.9, 72.5, 71.7, 72.1, 71.5, 71.2,
  71.0, 70.7, 70.5, 70.9, 70.3, 70.6, 70.1, 69.9, 70.4, 70.0, 70.3, 70.4,
  70.6, 70.9, 70.5, 71.0, 70.7, 71.1, 71.4, 70.9, 71.2, 71.6, 71.1, 71.7,
  71.5, 72.0, 71.6, 72.2, 71.8, 72.4, 72.3, 71.9, 72.6, 73.0, 72.5, 73.4,
  73.6, 73.2, 72.8, 73.1, 73.4, 72.7, 73.0, 72.5, 72.4, 72.9, 72.3, 72.6,
  72.4, 72.8, 72.3, 72.7, 73.0, 72.6, 73.1, 72.8, 73.3, 72.9, 73.2, 73.5,
  73.0,
];

// 15 s maxima that stick out of the envelope [minute, dB]
const ENV_SPIKE_FLOOR = 68;
const ENV_SPIKES = [
  [28, 74.7], [55, 75.5], [110, 77.2], [117, 78.0], [138, 75.5], [147, 76.6], [161, 76.0], [179, 74.9], [197, 75.5], [241, 74.9],
  [335, 74.7], [344, 74.1], [528, 77.7], [551, 75.5], [574, 74.1], [588, 76.0], [601, 77.7], [605, 87.2], [609, 82.7], [617, 80.0],
  [623, 75.2], [633, 84.9], [638, 79.4], [641, 81.6], [643, 91.3], [647, 80.5], [650, 87.2], [653, 84.7], [656, 84.4], [660, 79.1],
  [662, 82.2], [664, 88.3], [667, 79.5], [675, 82.2], [679, 82.2], [684, 84.4], [693, 80.5], [700, 78.0], [707, 81.8], [712, 83.8],
  [716, 84.9], [719, 83.8], [721, 86.0], [723, 87.7], [727, 87.7], [734, 82.7], [737, 81.3], [744, 81.9], [748, 79.4], [756, 77.0],
  [762, 81.0], [770, 82.8], [776, 84.1], [782, 87.2], [786, 86.6], [790, 83.3], [795, 76.6], [799, 79.7], [806, 87.2], [811, 84.4],
  [814, 79.4], [820, 76.6], [824, 80.5], [835, 82.2], [839, 78.0], [843, 80.8], [849, 82.7], [853, 79.7], [856, 85.5], [858, 76.6],
  [863, 89.4], [867, 83.8], [870, 87.2], [873, 89.4], [875, 83.9], [877, 88.3], [880, 80.6], [883, 84.9], [886, 87.2], [890, 89.7],
  [892, 86.3], [898, 86.6], [903, 79.6], [904, 83.8], [906, 77.5], [913, 88.3], [918, 80.2], [923, 85.5], [928, 79.0], [932, 81.6],
  [937, 77.0], [941, 84.4], [946, 79.2], [950, 80.5], [957, 83.3], [964, 79.9], [968, 76.2], [973, 77.7], [979, 75.8], [984, 82.7],
  [990, 77.0], [996, 85.5], [1005, 79.9], [1012, 76.5], [1019, 77.2], [1025, 75.4], [1033, 76.6], [1042, 75.2], [1051, 78.3], [1058, 75.7],
  [1065, 77.2], [1072, 76.0], [1079, 76.0], [1086, 74.9], [1092, 77.7], [1102, 78.8], [1108, 75.6], [1113, 79.4], [1119, 76.2], [1125, 80.8],
  [1130, 76.8], [1134, 77.2], [1141, 75.3], [1148, 79.4], [1155, 75.8], [1161, 75.5], [1172, 73.9], [1185, 74.5], [1221, 72.7], [1240, 73.1],
  [1267, 73.3], [1280, 72.8], [1294, 73.8], [1305, 73.5], [1317, 74.9], [1322, 73.5], [1335, 73.2], [1349, 73.0], [1360, 74.2], [1377, 73.3],
  [1390, 73.6], [1400, 72.4], [1413, 73.0], [1425, 74.0], [1432, 76.0],
];

const Y_MIN = 24;
const Y_MAX = 108;
const Y_STEP = 12;
const X_MAX = 1440;
const X_STEP = 120;

// ---------- STYLE / LAYOUT ----------
const FONT = 'DejaVu Sans';
const BG = '#FFF8DC';
const GL = 59;
const GW = 2284;
const GH = 504;
const GT0 = 84;
const GT1 = 645;

const C_PZ = '#1E90FF';
const C_PC = '#FF00FF';
const C_PA = '#2E8B57';
const C_AZ = '#4682B4';
const C_AC = '#DA70D6';
const C_AA = '#9ACD32';
const C_BZ = '#DC143C';
const C_BC = '#FF8C00';
const C_BA = '#FFD700';
const ENV_FILL = 'rgba(240,128,128,0.28)';
const SPIKE_FILL = 'rgba(236,120,110,0.33)';
const PLUS = 'path://M3,0H5V3H8V5H5V8H3V5H0V3H3Z';

const pad2 = (n: number) => String(n).padStart(2, '0');

const series1 = (arr: number[], step: number, offset = 0) => arr.map((v, i) => [i * step + offset, v]);

function xAxisDef(gridIndex: number, secs: boolean) {
  return {
    type: 'value',
    gridIndex,
    min: 0,
    max: X_MAX,
    interval: X_STEP,
    name: 'time',
    nameLocation: 'middle',
    nameGap: 26,
    nameTextStyle: { fontFamily: FONT, fontSize: 12, color: '#000' },
    axisLine: { show: false, onZero: false },
    axisTick: { show: true, length: 4.5, lineStyle: { color: '#000', width: 1 } },
    minorTick: { show: true, splitNumber: 4, length: 3, lineStyle: { color: '#000', width: 0.8 } },
    axisLabel: {
      fontFamily: FONT,
      fontSize: 7.6,
      color: '#222',
      margin: 10,
      formatter: (v: number) => (v % X_STEP === 0 && v < X_MAX ? `${pad2(v / 60)}:00${secs ? ':00' : ''}` : ''),
    },
    splitLine: { show: true, lineStyle: { color: '#b0b0b0', width: 1.2 } },
    minorSplitLine: { show: true, lineStyle: { color: '#d2cab6', width: 0.8, type: [1.5, 2] } },
  };
}

function yAxisDef(gridIndex: number, position: 'left' | 'right') {
  const left = position === 'left';
  return {
    type: 'value',
    gridIndex,
    position,
    min: Y_MIN,
    max: Y_MAX,
    interval: Y_STEP,
    name: 'dB SPL',
    nameLocation: 'middle',
    nameRotate: 90,
    nameGap: left ? 35 : 33,
    nameTextStyle: { fontFamily: FONT, fontSize: 12, color: '#000' },
    axisLine: { show: false, onZero: false },
    axisTick: { show: true, length: 6, lineStyle: { color: '#000', width: 1 } },
    minorTick: { show: true, splitNumber: 4, length: 3, lineStyle: { color: '#000', width: 0.8 } },
    axisLabel: { fontFamily: FONT, fontSize: 7.6, color: '#222', margin: 11 },
    splitLine: { show: left, lineStyle: { color: '#b0b0b0', width: 1.2 } },
    minorSplitLine: { show: left, lineStyle: { color: '#c4bcaa', width: 0.8, type: [3, 2] } },
  };
}

const legendText = { fontFamily: FONT, fontSize: 10, color: '#000', lineHeight: 11.7 };

function buildOption() {
  const scatter = (name: string, color: string, data: number[][]) => ({
    name,
    type: 'scatter',
    xAxisIndex: 0,
    yAxisIndex: 0,
    symbol: PLUS,
    symbolSize: 5,
    itemStyle: { color, opacity: 0.75 },
    data,
    silent: true,
    clip: true,
  });
  const line = (name: string, color: string, data: number[][], xi: number, yi: number, width: number) => ({
    name,
    type: 'line',
    xAxisIndex: xi,
    yAxisIndex: yi,
    showSymbol: false,
    symbol: 'none',
    lineStyle: { color, width },
    itemStyle: { color },
    data,
    silent: true,
    clip: true,
  });

  const envTop = series1(ENV_HI, ENV_STEP);
  const envBottom = series1(BOT_A, BOT_STEP);

  return {
    animation: false,
    backgroundColor: '#fff',
    title: [
      {
        text: 'data from [5001/mic0]\nstarting point is [20240530_000019]',
        left: 24,
        top: 10.5,
        padding: 0,
        textStyle: { fontFamily: FONT, fontSize: 14, fontWeight: 'bold', color: '#000', lineHeight: 15.5 },
      },
      {
        text: 'average and peak noise level (1 min sampling)',
        left: 59,
        top: 64,
        padding: 0,
        textStyle: { fontFamily: FONT, fontSize: 12, fontWeight: 'bold', color: '#000' },
      },
      {
        text: 'average noise level (5 min with 15s min/max dB envelope)',
        left: 59,
        top: 625,
        padding: 0,
        textStyle: { fontFamily: FONT, fontSize: 12, fontWeight: 'bold', color: '#000' },
      },
    ],
    grid: [
      { left: GL, top: GT0, width: GW, height: GH, show: true, backgroundColor: BG, borderWidth: 0 },
      { left: GL, top: GT1, width: GW, height: GH, show: true, backgroundColor: BG, borderWidth: 0 },
    ],
    xAxis: [xAxisDef(0, false), xAxisDef(1, true)],
    yAxis: [yAxisDef(0, 'left'), yAxisDef(0, 'right'), yAxisDef(1, 'left'), yAxisDef(1, 'right')],
    legend: [
      {
        data: ['peak dB(Z)', 'peak dB(C)', 'peak dB(A)'],
        orient: 'vertical',
        left: 2158,
        top: 544,
        padding: 0,
        itemWidth: 22,
        itemHeight: 6,
        itemGap: 0,
        icon: 'circle',
        selectedMode: false,
        textStyle: legendText,
        z: 95,
      },
      {
        data: ['avg dB(Z)', 'avg dB(C)', 'avg dB(A)'],
        orient: 'vertical',
        left: 2257,
        top: 544,
        padding: 0,
        itemWidth: 23,
        itemHeight: 4,
        itemGap: 0,
        icon: 'rect',
        selectedMode: false,
        textStyle: legendText,
        z: 95,
      },
      {
        data: ['dB(Z)', 'dB(C)', 'dB(A)'],
        orient: 'vertical',
        left: 2279,
        top: 1105,
        padding: 0,
        itemWidth: 22,
        itemHeight: 3.5,
        itemGap: 0,
        icon: 'rect',
        selectedMode: false,
        textStyle: legendText,
        z: 95,
      },
    ],
    graphic: [
      { type: 'rect', z: 100, silent: true, shape: { x: GL, y: GT0, width: GW, height: GH }, style: { fill: 'none', stroke: '#000', lineWidth: 1.3 } },
      { type: 'rect', z: 100, silent: true, shape: { x: GL, y: GT1, width: GW, height: GH }, style: { fill: 'none', stroke: '#000', lineWidth: 1.3 } },
      { type: 'rect', z: 90, silent: true, shape: { x: 2156, y: 543, width: 182, height: 40, r: 3 }, style: { fill: 'rgba(255,248,220,0.85)', stroke: '#dcc199', lineWidth: 1 } },
      { type: 'rect', z: 90, silent: true, shape: { x: 2277, y: 1103, width: 61, height: 41, r: 3 }, style: { fill: 'rgba(255,248,220,0.85)', stroke: '#dcc199', lineWidth: 1 } },
    ],
    series: [
      scatter('peak dB(Z)', C_PZ, series1(PEAK_Z, TOP_STEP).concat(PEAK_Z_OUT)),
      scatter('peak dB(C)', C_PC, series1(PEAK_C, TOP_STEP, 2).concat(PEAK_C_OUT)),
      scatter('peak dB(A)', C_PA, series1(PEAK_A, PEAK_A_STEP, 5).concat(PEAK_A_OUT)),
      line('avg dB(Z)', C_AZ, series1(AVG_Z, TOP_STEP), 0, 0, 1.6),
      line('avg dB(C)', C_AC, series1(AVG_C, TOP_STEP), 0, 0, 1.6),
      line('avg dB(A)', C_AA, series1(AVG_A, TOP_STEP), 0, 0, 1.6),
      {
        type: 'custom',
        xAxisIndex: 1,
        yAxisIndex: 2,
        silent: true,
        clip: true,
        data: [[0, ENV_HI[0]]],
        renderItem: (params: any, api: any) => {
          const pts: number[][] = [];
          envTop.forEach((p) => pts.push(api.coord(p)));
          for (let i = envBottom.length - 1; i >= 0; i--) pts.push(api.coord(envBottom[i]));
          return { type: 'polygon', shape: { points: pts }, style: { fill: ENV_FILL } };
        },
      },
      {
        type: 'custom',
        xAxisIndex: 1,
        yAxisIndex: 2,
        silent: true,
        clip: true,
        data: ENV_SPIKES,
        renderItem: (params: any, api: any) => {
          const t = api.value(0);
          const top = api.coord([t, api.value(1)]);
          const base = api.coord([t, ENV_SPIKE_FLOOR]);
          return {
            type: 'rect',
            shape: { x: top[0] - 0.7, y: top[1], width: 1.4, height: base[1] - top[1] },
            style: { fill: SPIKE_FILL },
          };
        },
      },
      line('dB(Z)', C_BZ, series1(BOT_Z, BOT_STEP), 1, 2, 1.8),
      line('dB(C)', C_BC, series1(BOT_C, BOT_STEP), 1, 2, 1.8),
      line('dB(A)', C_BA, series1(BOT_A, BOT_STEP), 1, 2, 1.8),
    ],
  };
}

export default function App() {
  const ref = useRef<HTMLDivElement>(null);
  useEffect(() => {
    if (!ref.current) return;
    const chart = echarts.init(ref.current, null, { renderer: 'svg' });
    chart.setOption(buildOption() as any);
    return () => chart.dispose();
  }, []);
  return (
    <div
      ref={ref}
      style={{ position: 'fixed', left: 0, top: 0, width: 2400, height: 1200, background: '#fff' }}
    />
  );
}
